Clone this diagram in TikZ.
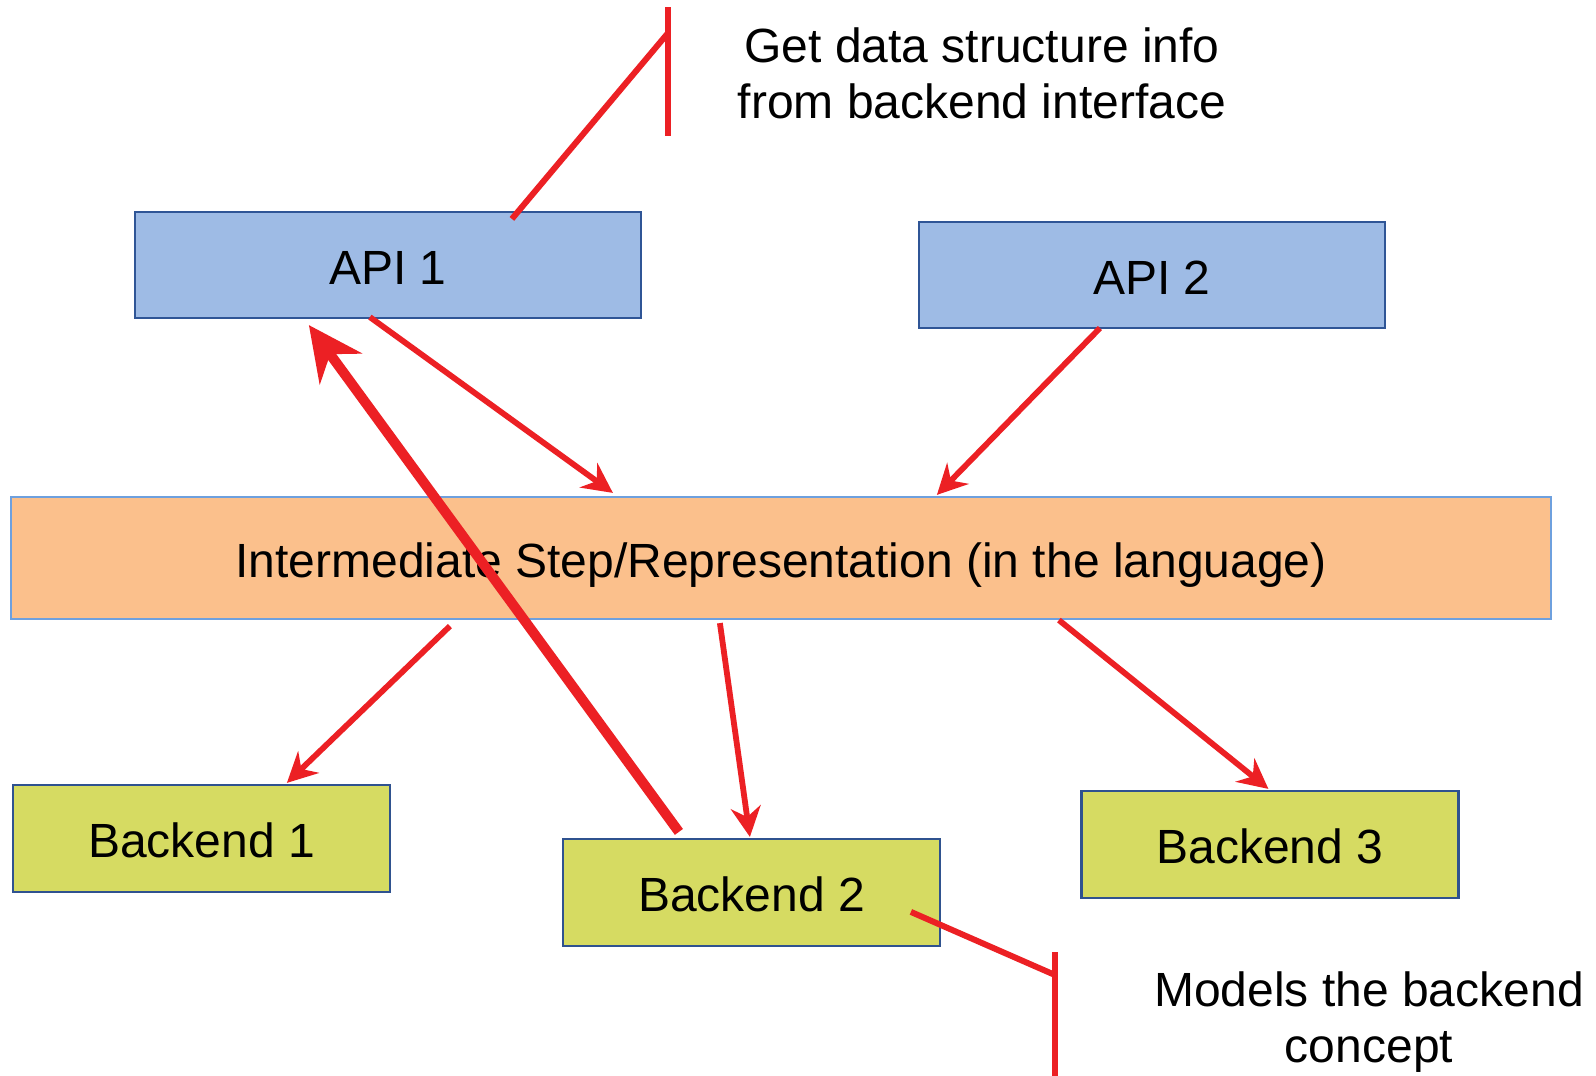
\documentclass[tikz,border=0pt]{standalone}
\usepackage{fontspec}
\setmainfont{Liberation Sans}
\usetikzlibrary{arrows.meta,calc}
\definecolor{apifill}{RGB}{158,187,229}
\definecolor{apiborder}{RGB}{47,85,150}
\definecolor{interfill}{RGB}{251,192,140}
\definecolor{interborder}{RGB}{110,160,222}
\definecolor{befill}{RGB}{214,219,98}
\definecolor{beborder}{RGB}{47,82,143}
\definecolor{redline}{RGB}{236,32,36}
\begin{document}
\begin{tikzpicture}[x=0.5pt,y=-0.5pt,
  every node/.style={font=\fontsize{24pt}{28pt}\selectfont, inner sep=0pt},
  box/.style={draw, line width=1.1pt, rectangle, text height=20pt, text depth=1pt},
  apibox/.style={box, fill=apifill, draw=apiborder, minimum height=53pt},
  interbox/.style={box, fill=interfill, draw=interborder, minimum height=61pt, minimum width=770pt},
  bebox/.style={box, fill=befill, draw=beborder, minimum height=53.5pt, minimum width=188.5pt},
  thinarrow/.style={draw=redline, line width=2.9pt, -{Stealth[length=15pt,width=15pt,inset=5pt]}},
  thickarrow/.style={draw=redline, line width=5pt, -{Stealth[length=27pt,width=26pt,inset=9pt]}},
  callout/.style={draw=redline, line width=3pt},
  calloutbar/.style={draw=redline, line width=3.2pt}]
\useasboundingbox (0,0) rectangle (1596,1076);
\fill[white] (0,0) rectangle (1596,1076);

\node[apibox, minimum width=253pt] (api1) at (388,265) {API 1};
\node[apibox, minimum width=233pt] (api2) at (1152,275) {API 2};
\node[interbox] (inter) at (781,558) {Intermediate Step/Representation (in the language)};
\node[bebox] (b1) at (201.5,838.5) {Backend 1};
\node[bebox] (b2) at (751.5,892.5) {Backend 2};
\node[bebox] (b3) at (1270,844.5) {Backend 3};

\node[align=center] (note1) at (982,73) {Get data structure info\\from backend interface};
\node[align=center] (note2) at (1369,1022) {Models the backend\\concept};

% arrows
\draw[thinarrow] ($(api1.south west)+(236,-2)$) -- ($(inter.north west)+(603,-3)$);
\draw[thinarrow] ($(api2.south west)+(182,-1)$) -- ($(inter.north west)+(927,-1)$);
\draw[thinarrow] ($(inter.south west)+(440,6)$) -- ($(b1.north west)+(275,-1)$);
\draw[thinarrow] ($(inter.south west)+(710,3)$) -- ($(b2.north west)+(188,-1)$);
\draw[thinarrow] ($(inter.south west)+(1049,0)$) -- ($(b3.north west)+(188,-1)$);
\draw[thickarrow] ($(b2.north west)+(117,-6)$) -- ($(api1.south west)+(175,6)$);

% callouts
\coordinate (c1) at (668,33);
\coordinate (c1top) at (668,7);
\coordinate (c1bot) at (668,136);
\draw[callout] ($(api1.north west)+(378,8)$) -- (c1);
\draw[calloutbar] (c1top) -- (c1bot);

\coordinate (c2) at (1055,975);
\coordinate (c2top) at (1055,952);
\coordinate (c2bot) at (1055,1076);
\draw[callout] ($(b2.north west)+(349,74)$) -- (c2);
\draw[calloutbar] (c2top) -- (c2bot);
\end{tikzpicture}
\end{document}
